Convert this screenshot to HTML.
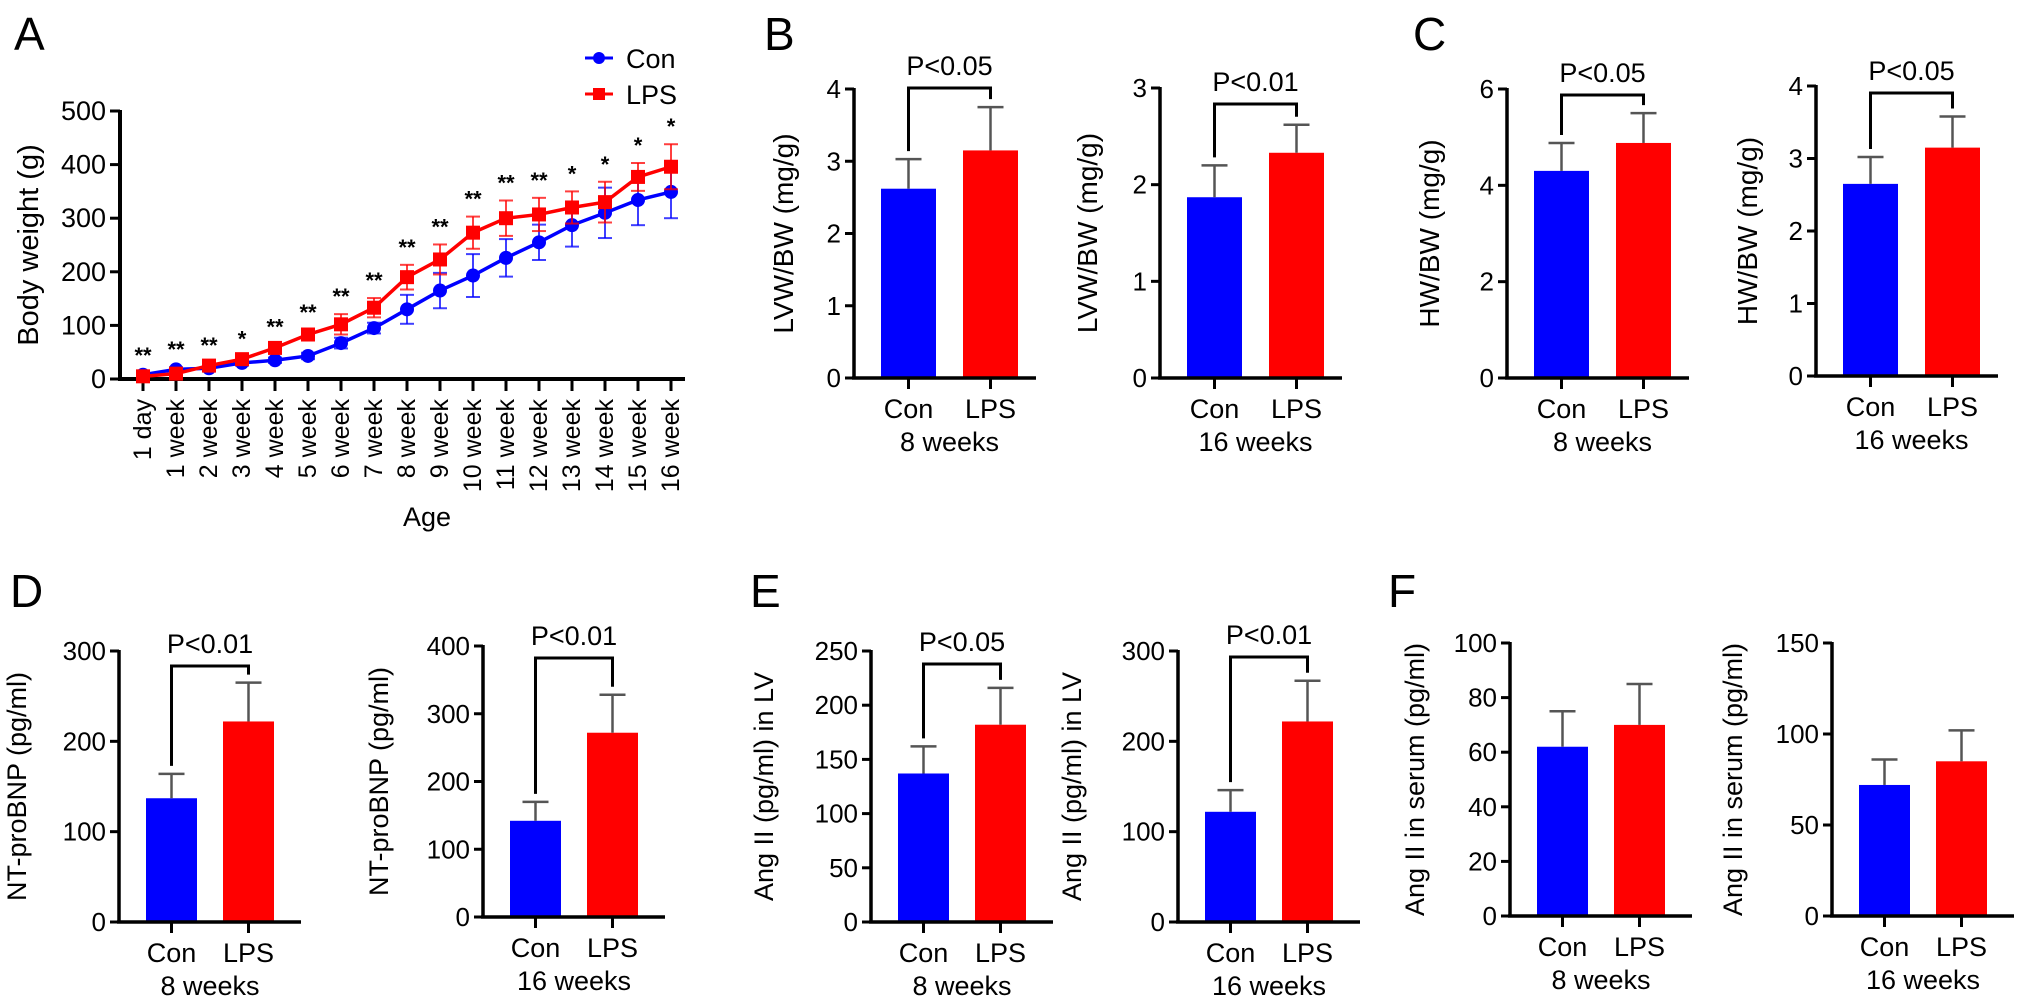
<!DOCTYPE html>
<html><head><meta charset="utf-8">
<style>
html,body{margin:0;padding:0;background:#fff;}
svg{display:block;font-family:"Liberation Sans",Arial,sans-serif;}
</style></head>
<body>
<svg id="fig" width="2032" height="1008" viewBox="0 0 2032 1008" xmlns="http://www.w3.org/2000/svg">
<rect width="2032" height="1008" fill="#fff"/>
<g font-size="46" fill="#000">
<text x="14" y="50">A</text>
<text x="764" y="50">B</text>
<text x="1413" y="50">C</text>
<text x="10" y="607">D</text>
<text x="750" y="607">E</text>
<text x="1388" y="607">F</text>
</g>
</svg>
<script>
// ---- Panel A data ----
const ageLabels = ["1 day","1 week","2 week","3 week","4 week","5 week","6 week","7 week","8 week","9 week","10 week","11 week","12 week","13 week","14 week","15 week","16 week"];
const conMeans = [8,18,20,30,35,43,67,95,130,165,193,226,255,287,310,334,349];
const conErrs = [3,4,5,5,5,6,10,10,27,33,40,35,33,40,47,47,49];
const lpsMeans = [5,10,25,37,58,83,102,133,190,223,273,300,307,320,330,377,396];
const lpsErrs = [3,4,5,5,6,8,19,18,23,28,30,33,31,30,38,26,42];
const sigStars = ["**","**","**","*","**","**","**","**","**","**","**","**","**","*","*","*","*"];
const aTicks = [0,100,200,300,400,500];

// ---- Bar panel data ----
const b1Means=[2.62,3.15], b1Errs=[0.41,0.6], b1Ticks=[0,1,2,3,4];
const b2Means=[1.87,2.33], b2Errs=[0.33,0.29], b2Ticks=[0,1,2,3];
const c1Means=[4.3,4.88], c1Errs=[0.58,0.62], c1Ticks=[0,2,4,6];
const c2Means=[2.65,3.15], c2Errs=[0.37,0.43], c2Ticks=[0,1,2,3,4];
const d1Means=[137,222], d1Errs=[27,43], d1Ticks=[0,100,200,300];
const d2Means=[142,272], d2Errs=[28,56], d2Ticks=[0,100,200,300,400];
const e1Means=[137,182], e1Errs=[25,34], e1Ticks=[0,50,100,150,200,250];
const e2Means=[122,222], e2Errs=[24,45], e2Ticks=[0,100,200,300];
const f1Means=[62,70], f1Errs=[13,15], f1Ticks=[0,20,40,60,80,100];
const f2Means=[72,85], f2Errs=[14,17], f2Ticks=[0,50,100,150];
const groupLabels=["Con","LPS"];

const NS="http://www.w3.org/2000/svg";
const svg=document.getElementById('fig');
function mk(tag,attrs,parent){const e=document.createElementNS(NS,tag);for(const k in attrs)e.setAttribute(k,attrs[k]);(parent||svg).appendChild(e);return e;}

// ---- Panel A ----
(function(){
  const g=mk('g',{});
  
  
  const ax=120, y0=379, yTop=111, yMax=500, x0=143, dx=33;
  const ys=v=>y0-(v/yMax)*(y0-yTop);
  const xs=i=>x0+i*dx;
  const yl=mk('line',{x1:ax,y1:yTop-1,x2:ax,y2:y0+1.5,stroke:'#000','stroke-width':4},g);
  
  const xl=mk('line',{x1:ax-2,y1:y0,x2:xs(ageLabels.length-1)+14,y2:y0,stroke:'#000','stroke-width':4},g);
  
  aTicks.forEach(t=>{
    mk('line',{x1:ax-10,y1:ys(t),x2:ax,y2:ys(t),stroke:'#000','stroke-width':3},g);
    const tx=mk('text',{x:ax-14,y:ys(t)+9,'text-anchor':'end','font-size':27},g);
    tx.textContent=t;
    
  });
  const yt=mk('text',{x:0,y:0,'text-anchor':'middle','font-size':29,transform:`translate(${ax-82},${(y0+yTop)/2}) rotate(-90)`},g);
  yt.textContent='Body weight (g)';
  
  ageLabels.forEach((lab,i)=>{
    mk('line',{x1:xs(i),y1:y0,x2:xs(i),y2:y0+12,stroke:'#000','stroke-width':3},g);
    const t=mk('text',{x:0,y:0,'text-anchor':'end','dominant-baseline':'central','font-size':25,transform:`translate(${xs(i)},${y0+20}) rotate(-90)`},g);
    t.textContent=lab;
    
  });
  const xt=mk('text',{x:427,y:526,'text-anchor':'middle','font-size':27},g);
  xt.textContent='Age';
  
  function series(means,errs,color,name,square){
    const sg=mk('g',{},g);
    
    means.forEach((m,i)=>{
      const x=xs(i);
      mk('line',{x1:x,y1:ys(m-errs[i]),x2:x,y2:ys(m+errs[i]),stroke:color,'stroke-width':2,opacity:0.75},sg);
      [m-errs[i],m+errs[i]].forEach(v=>mk('line',{x1:x-7,y1:ys(v),x2:x+7,y2:ys(v),stroke:color,'stroke-width':2,opacity:0.75},sg));
    });
    const pts=means.map((m,i)=>xs(i)+','+ys(m)).join(' ');
    const pl=mk('polyline',{points:pts,fill:'none',stroke:color,'stroke-width':3.5},sg);
    
    means.forEach((m,i)=>{
      let p;
      if(square) p=mk('rect',{x:xs(i)-7,y:ys(m)-7,width:14,height:14,fill:color},sg);
      else p=mk('circle',{cx:xs(i),cy:ys(m),r:7,fill:color},sg);
      
    });
  }
  series(conMeans,conErrs,'#0000ff','con',false);
  series(lpsMeans,lpsErrs,'#ff0000','lps',true);
  sigStars.forEach((s,i)=>{
    const top=Math.max(conMeans[i]+conErrs[i],lpsMeans[i]+lpsErrs[i]);
    const t=mk('text',{x:xs(i),y:ys(top)-10,'text-anchor':'middle','font-size':22,'font-weight':'bold'},g);
    t.textContent=s;
    
  });
  const lg=mk('g',{},g);
  
  [['Con','#0000ff',58,false],['LPS','#ff0000',94,true]].forEach(([lab,c,y,sq])=>{
    const e=mk('g',{},lg);
    
    mk('line',{x1:585,y1:y,x2:613,y2:y,stroke:c,'stroke-width':3},e);
    if(sq) mk('rect',{x:593,y:y-6,width:12,height:12,fill:c},e); else mk('circle',{cx:599,cy:y,r:6,fill:c},e);
    const t=mk('text',{x:626,y:y+10,'font-size':27},e); t.textContent=lab;
  });
})();

// ---- Bar panels ----
function barPanel(cfg){
  const g=mk('g',{});
  
  
  const {ax,y0,yTop,ticks,means,errs}=cfg;
  const yMax=ticks[ticks.length-1];
  const ys=v=>y0-(v/yMax)*(y0-yTop);
  const offs=cfg.top?[27,109]:[27,104], w=cfg.top?55:51;
  const colors=['#0000ff','#ff0000'];
  const cx=i=>ax+offs[i]+w/2;
  means.forEach((m,i)=>{
    const b=mk('rect',{x:ax+offs[i],y:ys(m),width:w,height:y0-ys(m),fill:colors[i]},g);
    
    const e=mk('g',{stroke:'#555','stroke-width':2.5},g);
    
    mk('line',{x1:cx(i),y1:ys(m),x2:cx(i),y2:ys(m+errs[i])},e);
    mk('line',{x1:cx(i)-13,y1:ys(m+errs[i]),x2:cx(i)+13,y2:ys(m+errs[i])},e);
  });
  const yl=mk('line',{x1:ax,y1:yTop-1,x2:ax,y2:y0+1.5,stroke:'#000','stroke-width':3.5},g);
  
  const xl=mk('line',{x1:ax-2,y1:y0,x2:ax+182,y2:y0,stroke:'#000','stroke-width':3.5},g);
  
  ticks.forEach(t=>{
    mk('line',{x1:ax-9,y1:ys(t),x2:ax,y2:ys(t),stroke:'#000','stroke-width':3},g);
    const tx=mk('text',{x:ax-13,y:ys(t)+9,'text-anchor':'end','font-size':26},g);
    tx.textContent=t;
    
  });
  const yt=mk('text',{x:0,y:0,'text-anchor':'middle','font-size':cfg.top?28:27,transform:`translate(${ax-cfg.titleOff},${(y0+yTop)/2}) rotate(-90)`},g);
  yt.textContent=cfg.title;
  
  [0,1].forEach(i=>{
    mk('line',{x1:cx(i),y1:y0,x2:cx(i),y2:y0+11,stroke:'#000','stroke-width':3},g);
    const t=mk('text',{x:cx(i),y:y0+40,'text-anchor':'middle','font-size':27},g);
    t.textContent=groupLabels[i];
    
  });
  const wk=mk('text',{x:(cx(0)+cx(1))/2,y:y0+73,'text-anchor':'middle','font-size':27},g);
  wk.textContent=cfg.weeks;
  
  if(cfg.p){
    const by=cfg.by;
    const br=mk('polyline',{points:`${cx(0)},${ys(means[0]+errs[0])-8} ${cx(0)},${by} ${cx(1)},${by} ${cx(1)},${ys(means[1]+errs[1])-8}`,fill:'none',stroke:'#000','stroke-width':3},g);
    
    const pt=mk('text',{x:(cx(0)+cx(1))/2,y:by-13,'text-anchor':'middle','font-size':27},g);
    pt.textContent=cfg.p;
    
  }
}
barPanel({name:'lvw-8-weeks-chart',top:true,ax:854,y0:378,yTop:89,ticks:b1Ticks,means:b1Means,errs:b1Errs,title:'LVW/BW (mg/g)',titleOff:61,weeks:'8 weeks',p:'P<0.05',by:88});
barPanel({name:'lvw-16-weeks-chart',top:true,ax:1160,y0:378,yTop:88,ticks:b2Ticks,means:b2Means,errs:b2Errs,title:'LVW/BW (mg/g)',titleOff:63,weeks:'16 weeks',p:'P<0.01',by:104});
barPanel({name:'hw-8-weeks-chart',top:true,ax:1507,y0:378,yTop:89,ticks:c1Ticks,means:c1Means,errs:c1Errs,title:'HW/BW (mg/g)',titleOff:68,weeks:'8 weeks',p:'P<0.05',by:95});
barPanel({name:'hw-16-weeks-chart',top:true,ax:1816,y0:376,yTop:86,ticks:c2Ticks,means:c2Means,errs:c2Errs,title:'HW/BW (mg/g)',titleOff:59,weeks:'16 weeks',p:'P<0.05',by:93});
barPanel({name:'ntprobnp-8-weeks-chart',top:false,ax:119,y0:922,yTop:651,ticks:d1Ticks,means:d1Means,errs:d1Errs,title:'NT-proBNP (pg/ml)',titleOff:93,weeks:'8 weeks',p:'P<0.01',by:666});
barPanel({name:'ntprobnp-16-weeks-chart',top:false,ax:483,y0:917,yTop:646,ticks:d2Ticks,means:d2Means,errs:d2Errs,title:'NT-proBNP (pg/ml)',titleOff:95,weeks:'16 weeks',p:'P<0.01',by:658});
barPanel({name:'angii-lv-8-weeks-chart',top:false,ax:871,y0:922,yTop:651,ticks:e1Ticks,means:e1Means,errs:e1Errs,title:'Ang II (pg/ml) in LV',titleOff:98,weeks:'8 weeks',p:'P<0.05',by:664});
barPanel({name:'angii-lv-16-weeks-chart',top:false,ax:1178,y0:922,yTop:651,ticks:e2Ticks,means:e2Means,errs:e2Errs,title:'Ang II (pg/ml) in LV',titleOff:97,weeks:'16 weeks',p:'P<0.01',by:657});
barPanel({name:'angii-serum-8-weeks-chart',top:false,ax:1510,y0:916,yTop:643,ticks:f1Ticks,means:f1Means,errs:f1Errs,title:'Ang II in serum (pg/ml)',titleOff:86,weeks:'8 weeks'});
barPanel({name:'angii-serum-16-weeks-chart',top:false,ax:1832,y0:916,yTop:643,ticks:f2Ticks,means:f2Means,errs:f2Errs,title:'Ang II in serum (pg/ml)',titleOff:90,weeks:'16 weeks'});
</script>
</body></html>
